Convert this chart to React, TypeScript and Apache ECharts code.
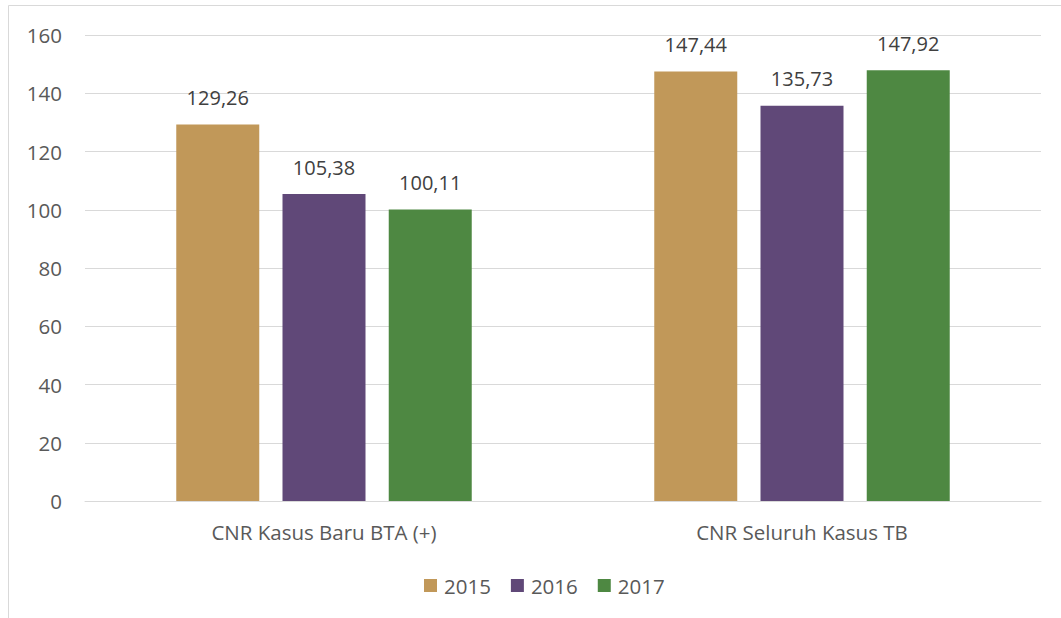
import React, { useEffect, useRef } from "react";
import * as echarts from "echarts";

const categories = ["CNR Kasus Baru BTA (+)", "CNR Seluruh Kasus TB"];
const seriesNames = ["2015", "2016", "2017"];
const values2015 = [129.26, 147.44];
const values2016 = [105.38, 135.73];
const values2017 = [100.11, 147.92];
const colors = ["#C19859", "#604878", "#4E8842"];
const yTicks = { min: 0, max: 160, interval: 20 };

const FONT = "'Open Sans', 'Noto Sans', sans-serif";

export default function App() {
  const ref = useRef<HTMLDivElement>(null);
  useEffect(() => {
    if (!ref.current) return;
    const chart = echarts.init(ref.current, null, { renderer: "svg" });
    const data = [values2015, values2016, values2017];
    chart.setOption({
      animation: false,
      textStyle: { fontFamily: FONT },
      graphic: [
        {
          type: "rect",
          shape: { x: 8.5, y: 5.5, width: 1070, height: 700 },
          style: { fill: "none", stroke: "#D9D9D9", lineWidth: 1 },
          silent: true,
        },
      ],
      grid: { left: 85, right: 20, top: 35, bottom: 117, containLabel: false },
      legend: {
        top: 570,
        left: 419,
        itemWidth: 13,
        itemHeight: 13,
        itemGap: 20,
        icon: "rect",
        textStyle: { fontSize: 20.5, color: "#595959", fontFamily: FONT, padding: [0, 0, 0, 2] },
        data: seriesNames,
      },
      xAxis: {
        type: "category",
        data: categories,
        axisLine: { lineStyle: { color: "#D9D9D9", width: 1 } },
        axisTick: { show: false },
        axisLabel: { fontSize: 20.5, color: "#595959", margin: 20, fontFamily: FONT },
      },
      yAxis: {
        type: "value",
        min: yTicks.min,
        max: yTicks.max,
        interval: yTicks.interval,
        axisLine: { show: false },
        axisTick: { show: false },
        splitLine: { lineStyle: { color: "#D9D9D9", width: 1 } },
        axisLabel: { fontSize: 20.5, color: "#595959", margin: 23, fontFamily: FONT },
      },
      series: seriesNames.map((name, i) => ({
        name,
        type: "bar",
        data: data[i],
        barWidth: 83,
        barGap: "28%",
        itemStyle: { color: colors[i] },
        label: {
          show: true,
          position: "top",
          distance: 17,
          fontSize: 20,
          color: "#404040",
          fontFamily: FONT,
          formatter: (p: any) => p.value.toFixed(2).replace(".", ","),
        },
      })),
    });
    return () => chart.dispose();
  }, []);
  return (
    <div
      ref={ref}
      style={{ position: "absolute", left: 0, top: 0, width: 1061, height: 618, background: "#fff" }}
    />
  );
}
